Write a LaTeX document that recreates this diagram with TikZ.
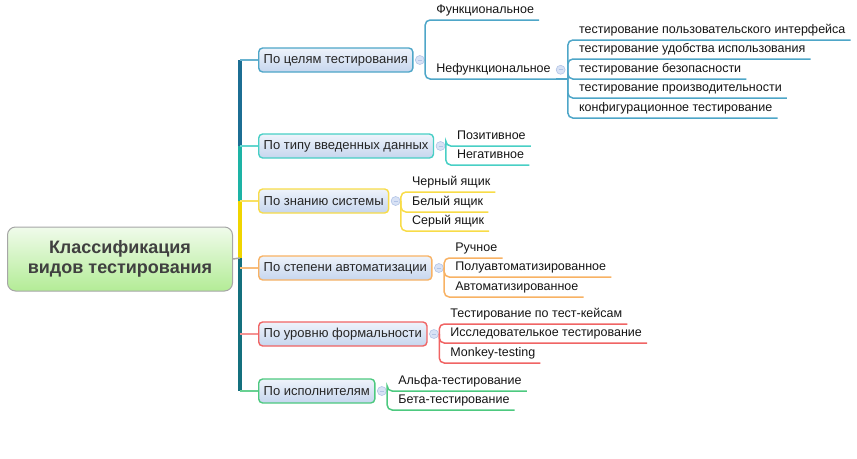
\documentclass[tikz,border=0pt]{standalone}
\usepackage{fontspec}
\setmainfont{Liberation Sans}
\usetikzlibrary{positioning}

% colours of the map
\definecolor{busA}{HTML}{1C6E93}
\definecolor{busB}{HTML}{1DB3A5}
\definecolor{busC}{HTML}{F0D500}
\definecolor{busD}{HTML}{14707E}
\definecolor{cBlue}{HTML}{4EA6C8}
\definecolor{cTeal}{HTML}{48CFC5}
\definecolor{cYell}{HTML}{F8DC48}
\definecolor{cOrng}{HTML}{F8B264}
\definecolor{cRed}{HTML}{F06464}
\definecolor{cGrn}{HTML}{4DC97F}
\definecolor{catTop}{HTML}{EEF3FB}
\definecolor{catBot}{HTML}{C6D6EE}
\definecolor{rootTop}{HTML}{F0FBEB}
\definecolor{rootBot}{HTML}{B3EC96}
\definecolor{knobFill}{HTML}{D8E2F5}
\definecolor{knobEdge}{HTML}{B2C4E6}

\tikzset{
  rootbox/.style={draw=black!35, line width=1pt, rounded corners=8pt,
    top color=rootTop, bottom color=rootBot,
    minimum width=225pt, minimum height=64pt, align=center,
    font=\fontsize{18}{20}\selectfont\bfseries, text=black!75},
  catbox/.style={rounded corners=4pt, line width=1.4pt, top color=catTop,
    bottom color=catBot, minimum height=24pt, inner xsep=5pt, anchor=west,
    font=\fontsize{13}{15}\selectfont, text=black!85},
  knob/.style={circle, draw=knobEdge, fill=knobFill, line width=0.6pt,
    minimum size=9pt, inner sep=0pt,
    path picture={\draw[knobEdge, line width=0.8pt]
      ([xshift=2.5pt]path picture bounding box.west) --
      ([xshift=-2.5pt]path picture bounding box.east);}},
  leaf/.style={anchor=south west, xshift=6pt, inner xsep=5pt, inner ysep=3pt,
    text depth=3pt, font=\fontsize{12.5}{14}\selectfont, text=black!92},
  link/.style={line width=1.5pt, rounded corners=5pt},
  spoke/.style={line width=1.5pt},
  bus/.style={line width=3.5pt}
}

\begin{document}
\begin{tikzpicture}[x=1pt, y=-1pt]
    \useasboundingbox (0,0) rectangle (857,458);

    % root of the map
    \node[rootbox] (root) at (120,259) {Классификация\\видов тестирования};

    % joints on the bus
    \coordinate (t1) at (240,60);
    \coordinate (t2) at (240,146);
    \coordinate (t3) at (240,201);
    \coordinate (j)  at (240,258);
    \coordinate (t4) at (240,268);
    \coordinate (t5) at (240,334);
    \coordinate (t6) at (240,391);

    % main branches
    \node[catbox, draw=cBlue] (n1) at (258,60)  {По целям тестирования};
    \node[catbox, draw=cTeal] (n2) at (258,146) {По типу введенных данных};
    \node[catbox, draw=cYell] (n3) at (258,201) {По знанию системы};
    \node[catbox, draw=cOrng] (n4) at (258,268) {По степени автоматизации};
    \node[catbox, draw=cRed]  (n5) at (258,334) {По уровню формальности};
    \node[catbox, draw=cGrn]  (n6) at (258,391) {По исполнителям};

    % bus
    \draw[bus, busA] (t1) -- (t2);
    \draw[bus, busB] (t2) -- (t3);
    \draw[bus, busC] (t3) -- (j);
    \draw[bus, busD] (j) -- (t6);
    \draw[spoke, black!35] (root.east) -- (j);

    \draw[spoke, cBlue!85] (t1) -- (n1.west);
    \draw[spoke, cTeal!85] (t2) -- (n2.west);
    \draw[spoke, cYell!85] (t3) -- (n3.west);
    \draw[spoke, cOrng!85] (t4) -- (n4.west);
    \draw[spoke, cRed!70]  (t5) -- (n5.west);
    \draw[spoke, cGrn!85]  (t6) -- (n6.west);

    % collapse knobs and bracket points
    \foreach \i in {1,...,6} {
        \node[knob, right=1.5pt of n\i] (k\i) {};
        \coordinate[right=0.5pt of k\i] (b\i);
    }

    % goals
    \node[leaf] (g1a) at (b1 |- 0,20) {Функциональное};
    \node[leaf] (g1b) at (b1 |- 0,79) {Нефункциональное};
    \draw[link, cBlue] (b1) |- (g1a.south east);
    \draw[link, cBlue] (b1) |- (g1b.south east);
    \node[knob, right=0pt of g1b] (k7) {};
    \coordinate (b7) at ([xshift=12pt]g1b.south east);
    \draw[link, cBlue] (g1b.south east) -- (b7);

    % non-functional
    \node[leaf] (g7a) at (b7 |- 0,40)  {тестирование пользовательского интерфейса};
    \node[leaf] (g7b) at (b7 |- 0,59)  {тестирование удобства использования};
    \node[leaf] (g7c) at (b7 |- 0,79)  {тестирование безопасности};
    \node[leaf] (g7d) at (b7 |- 0,98)  {тестирование производительности};
    \node[leaf] (g7e) at (b7 |- 0,118) {конфигурационное тестирование};
    \foreach \s in {a,b,c,d,e}
        \draw[link, cBlue] (b7) |- (g7\s.south east);

    % input data
    \node[leaf] (g2a) at (b2 |- 0,146) {Позитивное};
    \node[leaf] (g2b) at (b2 |- 0,165) {Негативное};
    \foreach \s in {a,b}
        \draw[link, cTeal] (b2) |- (g2\s.south east);

    % system knowledge
    \node[leaf] (g3a) at (b3 |- 0,192) {Черный ящик};
    \node[leaf] (g3b) at (b3 |- 0,212) {Белый ящик};
    \node[leaf] (g3c) at (b3 |- 0,231) {Серый ящик};
    \foreach \s in {a,b,c}
        \draw[link, cYell] (b3) |- (g3\s.south east);

    % automation
    \node[leaf] (g4a) at (b4 |- 0,258) {Ручное};
    \node[leaf] (g4b) at (b4 |- 0,277) {Полуавтоматизированное};
    \node[leaf] (g4c) at (b4 |- 0,297) {Автоматизированное};
    \foreach \s in {a,b,c}
        \draw[link, cOrng] (b4) |- (g4\s.south east);

    % formality
    \node[leaf] (g5a) at (b5 |- 0,324) {Тестирование по тест-кейсам};
    \node[leaf] (g5b) at (b5 |- 0,343) {Исследователькое тестирование};
    \node[leaf] (g5c) at (b5 |- 0,363) {Monkey-testing};
    \foreach \s in {a,b,c}
        \draw[link, cRed] (b5) |- (g5\s.south east);

    % performers
    \node[leaf] (g6a) at (b6 |- 0,391) {Альфа-тестирование};
    \node[leaf] (g6b) at (b6 |- 0,410) {Бета-тестирование};
    \foreach \s in {a,b}
        \draw[link, cGrn] (b6) |- (g6\s.south east);

\end{tikzpicture}
\end{document}
